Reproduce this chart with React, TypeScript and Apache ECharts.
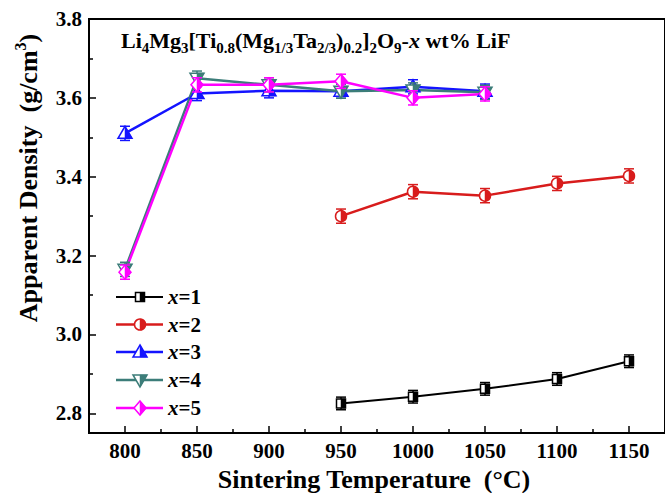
import React, { useEffect, useRef } from 'react';
import * as echarts from 'echarts';

// ---- data ----
const temps12 = [950, 1000, 1050, 1100, 1150];
const temps345 = [800, 850, 900, 950, 1000, 1050];
const dens1 = [2.825, 2.842, 2.862, 2.887, 2.932];
const err1 = [0.016, 0.016, 0.016, 0.016, 0.016];
const dens2 = [3.300, 3.362, 3.352, 3.383, 3.402];
const err2 = [0.018, 0.018, 0.018, 0.018, 0.018];
const dens3 = [3.510, 3.611, 3.618, 3.617, 3.628, 3.617];
const err3 = [0.018, 0.018, 0.018, 0.018, 0.018, 0.018];
const dens4 = [3.165, 3.650, 3.633, 3.617, 3.620, 3.614];
const err4 = [0.018, 0.018, 0.018, 0.018, 0.018, 0.018];
const dens5 = [3.158, 3.633, 3.633, 3.642, 3.600, 3.610];
const err5 = [0.018, 0.018, 0.018, 0.018, 0.018, 0.018];
const seriesNames = ['x=1', 'x=2', 'x=3', 'x=4', 'x=5'];
const xMajor = [800, 850, 900, 950, 1000, 1050, 1100, 1150];
const xMinor = [825, 875, 925, 975, 1025, 1075, 1125];
const yMajor = [2.8, 3.0, 3.2, 3.4, 3.6, 3.8];
const yMinor = [2.9, 3.1, 3.3, 3.5, 3.7];

const colors = ['#000000', '#d81c1c', '#1414ff', '#3c7d79', '#ff00ff'];
const shapes = ['square', 'circle', 'up', 'down', 'diamond'];
const FONT = '"Liberation Serif", "Times New Roman", serif';

function markerEls(shape: string, cx: number, cy: number, color: string): any[] {
  const out = { stroke: color, lineWidth: 1.5, fill: '#ffffff' };
  const fill = { fill: color, stroke: color, lineWidth: 0.5 };
  switch (shape) {
    case 'square':
      return [
        { type: 'rect', shape: { x: cx - 4.5, y: cy - 4.5, width: 9, height: 9 }, style: out },
        { type: 'rect', shape: { x: cx, y: cy - 4.5, width: 4.5, height: 9 }, style: fill },
      ];
    case 'circle':
      return [
        { type: 'circle', shape: { cx, cy, r: 5.5 }, style: out },
        { type: 'sector', shape: { cx, cy, r0: 0, r: 5.5, startAngle: -Math.PI / 2, endAngle: Math.PI / 2, clockwise: true }, style: fill },
      ];
    case 'up':
      return [
        { type: 'polygon', shape: { points: [[cx, cy - 7], [cx + 7, cy + 5], [cx - 7, cy + 5]] }, style: out },
        { type: 'polygon', shape: { points: [[cx, cy - 7], [cx + 7, cy + 5], [cx, cy + 5]] }, style: fill },
      ];
    case 'down':
      return [
        { type: 'polygon', shape: { points: [[cx - 7, cy - 5], [cx + 7, cy - 5], [cx, cy + 7]] }, style: out },
        { type: 'polygon', shape: { points: [[cx, cy - 5], [cx + 7, cy - 5], [cx, cy + 7]] }, style: fill },
      ];
    default:
      return [
        { type: 'polygon', shape: { points: [[cx, cy - 7], [cx + 6, cy], [cx, cy + 7], [cx - 6, cy]] }, style: out },
        { type: 'polygon', shape: { points: [[cx, cy - 7], [cx + 6, cy], [cx, cy + 7]] }, style: fill },
      ];
  }
}

export default function App() {
  const ref = useRef<HTMLDivElement>(null);
  useEffect(() => {
    if (!ref.current) return;
    const chart = echarts.init(ref.current, null, { renderer: 'svg' });
    const sets = [
      { t: temps12, d: dens1, e: err1 },
      { t: temps12, d: dens2, e: err2 },
      { t: temps345, d: dens3, e: err3 },
      { t: temps345, d: dens4, e: err4 },
      { t: temps345, d: dens5, e: err5 },
    ];
    const lineSeries = sets.map((s, k) => ({
      type: 'line',
      name: seriesNames[k],
      data: s.t.map((t, i) => [t, s.d[i]]),
      showSymbol: false,
      symbol: 'none',
      lineStyle: { color: colors[k], width: k === 0 ? 2 : 2.5 },
      itemStyle: { color: colors[k] },
      z: 2,
    }));
    const markerSeries = sets.map((s, k) => ({
      type: 'custom',
      name: seriesNames[k] + ' markers',
      data: s.t.map((t, i) => [t, s.d[i], s.e[i]]),
      encode: { x: 0, y: 1 },
      z: 3,
      renderItem: (params: any, api: any) => {
        const x = api.value(0);
        const y = api.value(1);
        const e = api.value(2);
        const c = api.coord([x, y]);
        const top = api.coord([x, y + e]);
        const bot = api.coord([x, y - e]);
        const col = colors[k];
        const ls = { stroke: col, lineWidth: 1.5 };
        const children: any[] = [
          { type: 'line', shape: { x1: c[0], y1: top[1], x2: c[0], y2: bot[1] }, style: ls },
          { type: 'line', shape: { x1: c[0] - 5, y1: top[1], x2: c[0] + 5, y2: top[1] }, style: ls },
          { type: 'line', shape: { x1: c[0] - 5, y1: bot[1], x2: c[0] + 5, y2: bot[1] }, style: ls },
          ...markerEls(shapes[k], c[0], c[1], col),
        ];
        return { type: 'group', children };
      },
    }));

    const legendEls: any[] = [];
    const rowY = [297, 324.5, 352, 380, 408];
    seriesNames.forEach((n, k) => {
      const y = rowY[k];
      legendEls.push({ type: 'line', shape: { x1: 116, y1: y, x2: 163, y2: y }, style: { stroke: colors[k], lineWidth: k === 0 ? 2 : 2.5 }, z: 10 });
      markerEls(shapes[k], 140, y, colors[k]).forEach((el) => legendEls.push({ ...el, z: 11 }));
      legendEls.push({
        type: 'text', x: 168, y: y, z: 11,
        style: {
          text: '{i|x}{m|=' + n.slice(2) + '}',
          textVerticalAlign: 'middle', textAlign: 'left',
          rich: {
            i: { fontFamily: FONT, fontSize: 21, fontWeight: 'bold', fontStyle: 'italic', fill: '#000' },
            m: { fontFamily: FONT, fontSize: 21, fontWeight: 'bold', fill: '#000' },
          },
        },
      });
    });

    const mainT = { fontFamily: FONT, fontSize: 22, fontWeight: 'bold', fill: '#000', lineHeight: 30 };
    const subT = { fontFamily: FONT, fontSize: 15, fontWeight: 'bold', fill: '#000', verticalAlign: 'bottom' };
    const titleEl = {
      type: 'text', x: 121, y: 25, z: 12,
      style: {
        text: '{m|Li}{s|4}{m|Mg}{s|3}{m|[Ti}{s|0.8}{m|(Mg}{s|1/3}{m|Ta}{s|2/3}{m|)}{s|0.2}{m|]}{s|2}{m|O}{s|9}{m|-}{i|x}{m| wt% LiF}',
        textVerticalAlign: 'top', textAlign: 'left',
        rich: { m: mainT, s: subT, i: { ...mainT, fontStyle: 'italic' } },
      },
    };
    const yTitle = {
      type: 'text', x: 28, y: 178, rotation: Math.PI / 2, z: 12,
      style: {
        text: '{m|Apparent Density  (g/cm}{p|3}{m|)}',
        textAlign: 'center', textVerticalAlign: 'middle',
        rich: {
          m: { fontFamily: FONT, fontSize: 26, fontWeight: 'bold', fill: '#000', lineHeight: 32 },
          p: { fontFamily: FONT, fontSize: 16, fontWeight: 'bold', fill: '#000', verticalAlign: 'top' },
        },
      },
    };
    const xTitle = {
      type: 'text', x: 374, y: 479, z: 12,
      style: {
        text: 'Sintering Temperature  (°C)',
        textAlign: 'center', textVerticalAlign: 'middle',
        fontFamily: FONT, fontSize: 26, fontWeight: 'bold', fill: '#000',
      },
    };

    const labelStyle = { fontFamily: FONT, fontSize: 21, fontWeight: 'bold', color: '#000' };
    chart.setOption({
      animation: false,
      backgroundColor: '#ffffff',
      grid: { left: 89, top: 19, right: -2, bottom: 60, show: true, borderColor: '#000', borderWidth: 2, backgroundColor: 'transparent' },
      xAxis: [
        {
          type: 'value', min: 775, max: 1175, position: 'bottom',
          axisLine: { show: true, lineStyle: { color: '#000', width: 2 } },
          axisTick: { show: true, inside: true, length: 7, lineStyle: { color: '#000', width: 1.5 }, customValues: xMajor },
          axisLabel: { ...labelStyle, margin: 7, customValues: xMajor, formatter: (v: number) => String(v) },
          splitLine: { show: false },
        },
        {
          type: 'value', min: 775, max: 1175, position: 'bottom',
          axisLine: { show: false },
          axisTick: { show: true, inside: true, length: 4, lineStyle: { color: '#000', width: 1.5 }, customValues: xMinor },
          axisLabel: { show: false },
          splitLine: { show: false },
        },
      ],
      yAxis: [
        {
          type: 'value', min: 2.75, max: 3.8, position: 'left',
          axisLine: { show: true, lineStyle: { color: '#000', width: 2 } },
          axisTick: { show: true, inside: true, length: 7, lineStyle: { color: '#000', width: 1.5 }, customValues: yMajor },
          axisLabel: { ...labelStyle, margin: 7, customValues: yMajor, formatter: (v: number) => v.toFixed(1) },
          splitLine: { show: false },
        },
        {
          type: 'value', min: 2.75, max: 3.8, position: 'left',
          axisLine: { show: false },
          axisTick: { show: true, inside: true, length: 4, lineStyle: { color: '#000', width: 1.5 }, customValues: yMinor },
          axisLabel: { show: false },
          splitLine: { show: false },
        },
      ],
      series: [...lineSeries, ...markerSeries],
      graphic: [titleEl, yTitle, xTitle, ...legendEls],
    });
    return () => chart.dispose();
  }, []);
  return <div ref={ref} style={{ position: 'fixed', left: 0, top: 0, width: 665, height: 493 }} />;
}
